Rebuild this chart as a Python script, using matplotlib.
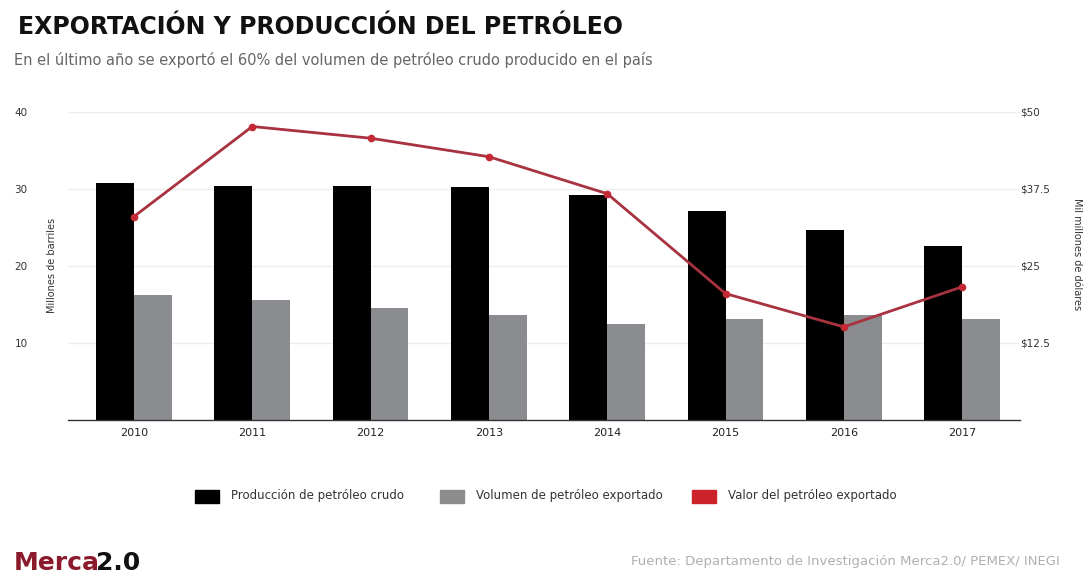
import matplotlib
matplotlib.use("Agg")
import matplotlib.pyplot as plt
from matplotlib.patches import Rectangle

# datos
years = ['2010', '2011', '2012', '2013', '2014', '2015', '2016', '2017']
produccion = [30.7, 30.3, 30.3, 30.2, 29.2, 27.1, 24.7, 22.6]
exportado = [16.2, 15.6, 14.5, 13.6, 12.5, 13.1, 13.6, 13.1]
valor = [33.0, 47.6, 45.7, 42.7, 36.7, 20.5, 15.1, 21.6]

left_ticks = [10, 20, 30, 40]
right_ticks = [12.5, 25, 37.5, 50]
right_labels = ['$12.5', '$25', '$37.5', '$50']

fig = plt.figure(figsize=(10.91, 5.87), dpi=100)
ax = fig.add_axes([0.0623, 0.2845, 0.8727, 0.5252])

x = list(range(len(years)))
w = 0.32
ax.bar([i - w for i in x], produccion, width=w, align='edge', color='#000000', zorder=2)
ax.bar(x, exportado, width=w, align='edge', color='#8a8c90', zorder=2)

ax.set_xlim(-0.558, 7.49)
ax.set_ylim(0, 40)
ax.set_yticks(left_ticks)
ax.set_yticklabels([str(t) for t in left_ticks])
ax.tick_params(axis='y', length=0, pad=29, labelsize=7.5, labelcolor='#333333')
ax.set_xticks(x)
ax.set_xticklabels(years)
ax.tick_params(axis='x', length=0, pad=6, labelsize=8, labelcolor='#222222')
ax.grid(axis='y', color='#eeeeee', linewidth=1, zorder=0)
for s in ['top', 'right', 'left']:
    ax.spines[s].set_visible(False)
ax.spines['bottom'].set_color('#333333')
ax.spines['bottom'].set_linewidth(1)

ax2 = ax.twinx()
ax2.plot(x, valor, color='#a8323f', linewidth=2, marker='o', markersize=4.5,
         markerfacecolor='#c42a36', markeredgecolor='#c42a36', zorder=3)
ax2.set_ylim(0, 50)
ax2.set_yticks(right_ticks)
ax2.set_yticklabels(right_labels)
ax2.tick_params(axis='y', length=0, pad=0, labelsize=7.5, labelcolor='#333333')
for s in ax2.spines.values():
    s.set_visible(False)

fig.text(0.0623 - 16 / 1091, 0.2845 + 0.5252 / 2, 'Millones de barriles', rotation=90,
         ha='center', va='center', fontsize=7, color='#333333')
fig.text(1077 / 1091, 0.2845 + 0.5252 / 2 + 0.02, 'Mil millones de dólares', rotation=270,
         ha='center', va='center', fontsize=7, color='#333333')

# titulos
fig.text(18 / 1091, 1 - 27 / 587, 'EXPORTACIÓN Y PRODUCCIÓN DEL PETRÓLEO',
         ha='left', va='center', fontsize=17, fontweight='bold', color='#111111')
fig.text(14 / 1091, 1 - 60 / 587,
         'En el último año se exportó el 60% del volumen de petróleo crudo producido en el país',
         ha='left', va='center', fontsize=10.5, color='#666666')

# leyenda
legend_items = [('Producción de petróleo crudo', '#000000', 195),
                ('Volumen de petróleo exportado', '#8c8c8c', 440),
                ('Valor del petróleo exportado', '#cc2229', 692)]
for label, col, px in legend_items:
    fig.patches.append(Rectangle((px / 1091, 1 - 503 / 587), 24 / 1091, 13 / 587,
                                 transform=fig.transFigure, color=col))
    fig.text((px + 36) / 1091, 1 - 496 / 587, label, ha='left', va='center',
             fontsize=8.5, color='#333333')

# pie: logo en dos partes
t1 = fig.text(14 / 1091, 1 - 563 / 587, 'Merca', ha='left', va='center', fontsize=18,
              fontweight='bold', color='#8b1a2b')
fig.canvas.draw()
bb = t1.get_window_extent()
fig.text((bb.x1 - 4) / 1091, 1 - 563 / 587, '2.0', ha='left', va='center', fontsize=18,
         fontweight='bold', color='#111111')
fig.text(1060 / 1091, 1 - 562 / 587,
         'Fuente: Departamento de Investigación Merca2.0/ PEMEX/ INEGI',
         ha='right', va='center', fontsize=9.5, color='#b0b0b0')

fig.savefig('out.png', dpi=100)
